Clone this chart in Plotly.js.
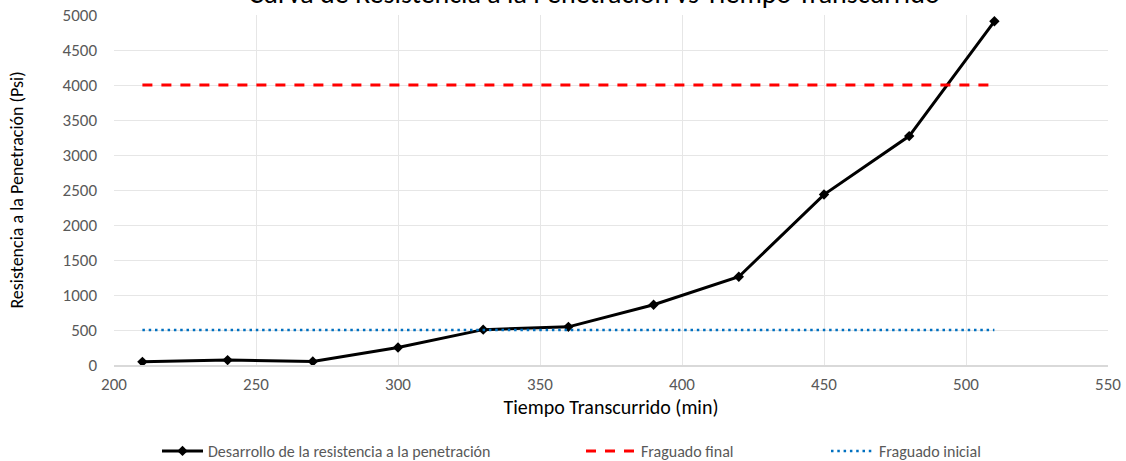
<!DOCTYPE html>
<html>
<head>
<meta charset="utf-8">
<script src="https://cdn.plot.ly/plotly-3.0.1.min.js"></script>
<style>html,body{margin:0;padding:0;background:#fff;}#chart{width:1126px;height:461px;}</style>
</head>
<body>
<div id="chart"></div>
<script>
// Data
const tiempo = [210, 240, 270, 300, 330, 360, 390, 420, 450, 480, 510];
const resistencia = [45, 70, 50, 250, 505, 545, 860, 1260, 2435, 3270, 4910];
const fraguadoFinalX = [210, 510];
const fraguadoFinalY = [4000, 4000];
const fraguadoInicialX = [210, 510];
const fraguadoInicialY = [500, 500];
const xTicks = [200, 250, 300, 350, 400, 450, 500, 550];
const yTicks = [0, 500, 1000, 1500, 2000, 2500, 3000, 3500, 4000, 4500, 5000];

const FONT = 'Calibri, Carlito, Lato, sans-serif';

const traces = [
  {
    x: tiempo, y: resistencia, type: 'scatter', mode: 'lines+markers',
    name: 'Desarrollo de la resistencia a la penetración',
    line: {color: '#000000', width: 3},
    marker: {symbol: 'diamond', size: 8, color: '#000000'},
    legend: 'legend'
  },
  {
    x: fraguadoFinalX, y: fraguadoFinalY, type: 'scatter', mode: 'lines',
    name: 'Fraguado final',
    line: {color: '#FF0000', width: 3, dash: '10px,9px'},
    legend: 'legend2'
  },
  {
    x: fraguadoInicialX, y: fraguadoInicialY, type: 'scatter', mode: 'lines',
    name: 'Fraguado inicial',
    line: {color: '#0070C0', width: 2.5, dash: '2.5px,3.8px'},
    legend: 'legend3'
  }
];

const legendBase = {
  orientation: 'h', xref: 'container', yref: 'container',
  yanchor: 'middle', xanchor: 'left', y: 1 - 451/461,
  font: {family: FONT, size: 16, color: '#595959'},
  bgcolor: 'rgba(0,0,0,0)'
};

const layout = {
  width: 1126, height: 461,
  margin: {l: 114, r: 18, t: 15, b: 96},
  paper_bgcolor: '#ffffff', plot_bgcolor: '#ffffff',
  font: {family: FONT, color: '#595959'},
  title: {
    text: 'Curva de Resistencia a la Penetración vs Tiempo Transcurrido',
    font: {family: FONT, size: 28, color: '#000000'},
    xref: 'container', x: 594/1126, xanchor: 'center',
    yref: 'paper', y: 1, yanchor: 'bottom', pad: {b: 12}
  },
  xaxis: {
    range: [200, 550], tickvals: xTicks, ticktext: xTicks.map(String),
    showgrid: true, gridcolor: '#e6e6e6', gridwidth: 1,
    showline: true, linecolor: '#d9d9d9', linewidth: 1.5,
    zeroline: false, ticks: '',
    tickfont: {family: FONT, size: 17, color: '#595959'},
    ticklabelstandoff: 3,
    title: {text: 'Tiempo Transcurrido (min)', font: {family: FONT, size: 20, color: '#000000'}, standoff: 0}
  },
  yaxis: {
    range: [0, 5000], tickvals: yTicks, ticktext: yTicks.map(String),
    showgrid: true, gridcolor: '#e6e6e6', gridwidth: 1,
    showline: false, zeroline: false, ticks: '',
    tickfont: {family: FONT, size: 17, color: '#595959'},
    ticklabelstandoff: 16,
    title: {text: 'Resistencia a la Penetración (Psi)', font: {family: FONT, size: 18, color: '#000000'}, standoff: 34}
  },
  showlegend: true,
  legend: Object.assign({}, legendBase, {x: 157/1126, itemwidth: 41}),
  legend2: Object.assign({}, legendBase, {x: 581/1126, itemwidth: 50}),
  legend3: Object.assign({}, legendBase, {x: 826/1126, itemwidth: 43})
};

Plotly.newPlot('chart', traces, layout, {displayModeBar: false, staticPlot: true});
</script>
</body>
</html>
